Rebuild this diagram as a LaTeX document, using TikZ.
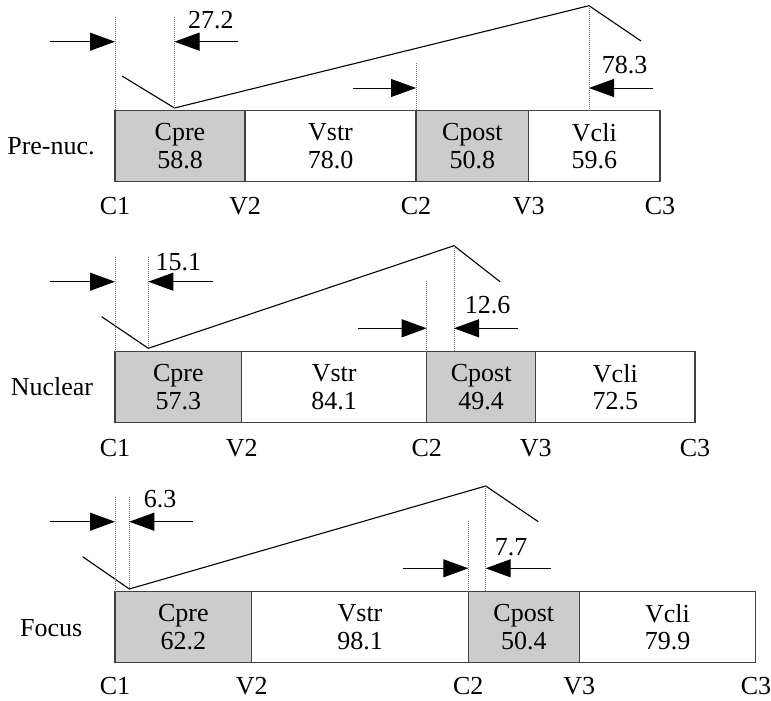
\documentclass[tikz,border=0pt]{standalone}
\usepackage{fontspec}
\setmainfont{Liberation Serif}
\usetikzlibrary{arrows.meta}
\tikzset{
  txt/.style={font=\fontsize{26}{27.7}\selectfont, inner sep=0pt, outer sep=0pt},
  seg/.style={txt, draw=black!75, line width=1.2pt, minimum height=71pt, anchor=north west, align=center},
  cons/.style={seg, fill=black!20},
  vow/.style={seg, fill=white},
  guide/.style={draw=black!55, line width=0.7pt, dash pattern=on 1pt off 1pt},
  contour/.style={draw=black, line width=1.1pt, line join=miter},
  gap/.style={draw=black, line width=1pt, -{Triangle[length=25pt,width=18pt]}},
  tag/.style={txt, anchor=base},
}
\begin{document}
\begin{tikzpicture}[x=1pt, y=-1pt]
\useasboundingbox (0,0) rectangle (771,701);

% ---------------- Pre-nuclear ----------------
\node[cons, minimum width=130pt]   (p1a) at (115,110.7)   {Cpre\\58.8};
\node[vow,  minimum width=171pt]   (p1b) at (245,110.7)   {Vstr\\78.0};
\node[cons, minimum width=112.7pt] (p1c) at (416,110.7)   {Cpost\\50.8};
\node[vow,  minimum width=131.3pt] (p1d) at (528.7,110.7) {Vcli\\59.6};
\node[tag] (p1row) at (51,154) {Pre-nuc.};
\node[tag] (p1c1) at (115,214.5)   {C1};
\node[tag] (p1v2) at (245,214.5)   {V2};
\node[tag] (p1c2) at (416,214.5)   {C2};
\node[tag] (p1v3) at (528.7,214.5) {V3};
\node[tag] (p1c3) at (660,214.5)   {C3};

\coordinate (p1s)  at (122,76);
\coordinate (p1lo) at (174.5,108);
\coordinate (p1hi) at (589,5.7);
\coordinate (p1e)  at (641,41);
\draw[contour] (p1s) -- (p1lo) -- (p1hi) -- (p1e);

\coordinate (p1g1t) at (115,17);    \coordinate (p1g1b) at (115,110.7);
\coordinate (p1g2t) at (174.5,17);  \coordinate (p1g2b) at (174.5,108);
\coordinate (p1g3t) at (416,63);    \coordinate (p1g3b) at (416,110.7);
\coordinate (p1g4b) at (589,110.7);
\draw[guide] (p1g1t) -- (p1g1b);
\draw[guide] (p1g2t) -- (p1g2b);
\draw[guide] (p1g3t) -- (p1g3b);
\draw[guide] (p1hi) -- (p1g4b);

\coordinate (p1a1) at (50,41.7);   \coordinate (p1t1) at (115,41.7);
\coordinate (p1a2) at (238,41.7);  \coordinate (p1t2) at (174.5,41.7);
\coordinate (p1a3) at (353,88);    \coordinate (p1t3) at (416,88);
\coordinate (p1a4) at (653,88);    \coordinate (p1t4) at (589,88);
\draw[gap] (p1a1) -- (p1t1);
\draw[gap] (p1a2) -- (p1t2);
\draw[gap] (p1a3) -- (p1t3);
\draw[gap] (p1a4) -- (p1t4);
\node[tag] (p1n1) at (210.8,28.3) {27.2};
\node[tag] (p1n2) at (624.7,73.3) {78.3};

% ---------------- Nuclear ----------------
\node[cons, minimum width=126.7pt] (p2a) at (115,351.7)   {Cpre\\57.3};
\node[vow,  minimum width=185pt]   (p2b) at (241.7,351.7) {Vstr\\84.1};
\node[cons, minimum width=109pt]   (p2c) at (426.7,351.7) {Cpost\\49.4};
\node[vow,  minimum width=159.3pt] (p2d) at (535.7,351.7) {Vcli\\72.5};
\node[tag] (p2row) at (52,395.7) {Nuclear};
\node[tag] (p2c1) at (115,456)   {C1};
\node[tag] (p2v2) at (241.7,456) {V2};
\node[tag] (p2c2) at (426.7,456) {C2};
\node[tag] (p2v3) at (535.7,456) {V3};
\node[tag] (p2c3) at (695,456)   {C3};

\coordinate (p2s)  at (101.7,316.7);
\coordinate (p2lo) at (148.3,348.3);
\coordinate (p2hi) at (454,245.7);
\coordinate (p2e)  at (500,281.7);
\draw[contour] (p2s) -- (p2lo) -- (p2hi) -- (p2e);

\coordinate (p2g1t) at (115,256.7);   \coordinate (p2g1b) at (115,351.7);
\coordinate (p2g2t) at (148.3,256.7); \coordinate (p2g2b) at (148.3,348.3);
\coordinate (p2g3t) at (426.7,280.7); \coordinate (p2g3b) at (426.7,351.7);
\coordinate (p2g4b) at (454,351.7);
\draw[guide] (p2g1t) -- (p2g1b);
\draw[guide] (p2g2t) -- (p2g2b);
\draw[guide] (p2g3t) -- (p2g3b);
\draw[guide] (p2hi) -- (p2g4b);

\coordinate (p2a1) at (50,281.7);    \coordinate (p2t1) at (115,281.7);
\coordinate (p2a2) at (212.7,281.7); \coordinate (p2t2) at (148.3,281.7);
\coordinate (p2a3) at (358,328.3);   \coordinate (p2t3) at (426.7,328.3);
\coordinate (p2a4) at (518,328.3);   \coordinate (p2t4) at (454,328.3);
\draw[gap] (p2a1) -- (p2t1);
\draw[gap] (p2a2) -- (p2t2);
\draw[gap] (p2a3) -- (p2t3);
\draw[gap] (p2a4) -- (p2t4);
\node[tag] (p2n1) at (178.3,270)   {15.1};
\node[tag] (p2n2) at (487.5,313.3) {12.6};

% ---------------- Focus ----------------
\node[cons, minimum width=136.7pt] (p3a) at (115,591.7)   {Cpre\\62.2};
\node[vow,  minimum width=216.6pt] (p3b) at (251.7,591.7) {Vstr\\98.1};
\node[cons, minimum width=111pt]   (p3c) at (468.3,591.7) {Cpost\\50.4};
\node[vow,  minimum width=176.4pt] (p3d) at (579.3,591.7) {Vcli\\79.9};
\node[tag] (p3row) at (51.3,636) {Focus};
\node[tag] (p3c1) at (115,694.5)   {C1};
\node[tag] (p3v2) at (251.7,694.5) {V2};
\node[tag] (p3c2) at (468.3,694.5) {C2};
\node[tag] (p3v3) at (579.3,694.5) {V3};
\node[tag] (p3c3) at (756,694.5)   {C3};

\coordinate (p3s)  at (82.7,556.7);
\coordinate (p3lo) at (129.3,589);
\coordinate (p3hi) at (485.7,486);
\coordinate (p3e)  at (538.3,521.7);
\draw[contour] (p3s) -- (p3lo) -- (p3hi) -- (p3e);

\coordinate (p3g1t) at (115,496.7);   \coordinate (p3g1b) at (115,591.7);
\coordinate (p3g2t) at (129.3,496.7); \coordinate (p3g2b) at (129.3,589);
\coordinate (p3g3t) at (468.3,521);   \coordinate (p3g3b) at (468.3,591.7);
\coordinate (p3g4b) at (485.7,591.7);
\draw[guide] (p3g1t) -- (p3g1b);
\draw[guide] (p3g2t) -- (p3g2b);
\draw[guide] (p3g3t) -- (p3g3b);
\draw[guide] (p3hi) -- (p3g4b);

\coordinate (p3a1) at (50,521.7);    \coordinate (p3t1) at (115,521.7);
\coordinate (p3a2) at (193,521.7);   \coordinate (p3t2) at (129.3,521.7);
\coordinate (p3a3) at (403.3,568.3); \coordinate (p3t3) at (468.3,568.3);
\coordinate (p3a4) at (550.7,568.3); \coordinate (p3t4) at (485.7,568.3);
\draw[gap] (p3a1) -- (p3t1);
\draw[gap] (p3a2) -- (p3t2);
\draw[gap] (p3a3) -- (p3t3);
\draw[gap] (p3a4) -- (p3t4);
\node[tag] (p3n1) at (160,507.7) {6.3};
\node[tag] (p3n2) at (511,555)   {7.7};
\end{tikzpicture}
\end{document}
